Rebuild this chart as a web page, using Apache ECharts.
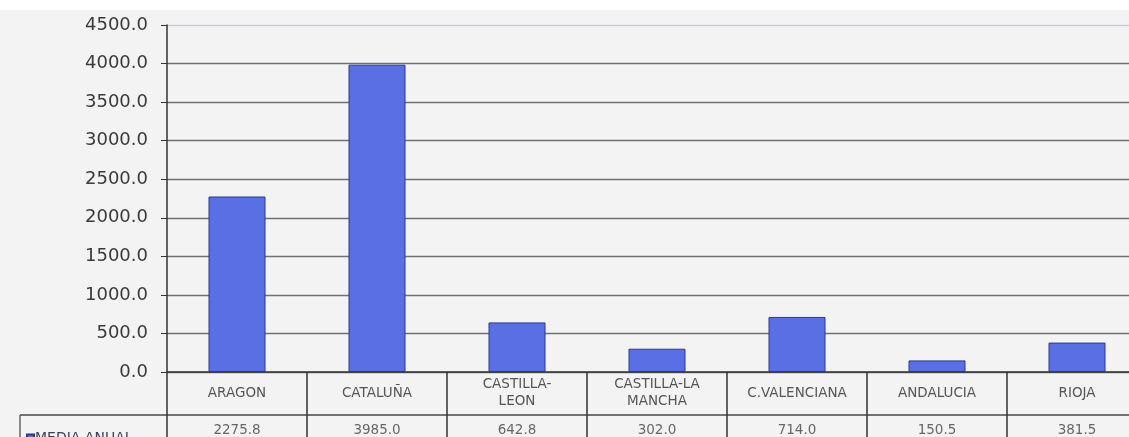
<!DOCTYPE html>
<html><head><meta charset="utf-8">
<script src="https://cdn.jsdelivr.net/npm/echarts@6/dist/echarts.min.js"></script>
<style>html,body{margin:0;padding:0;background:#f3f3f3;overflow:hidden}#c{width:1147px;height:437px}</style>
</head><body><div id="c"></div>
<script>
const categories = ['ARAGON','CATALUÑA','CASTILLA-\nLEON','CASTILLA-LA\nMANCHA','C.VALENCIANA','ANDALUCIA','RIOJA'];
const seriesName = 'MEDIA ANUAL';
const values = [2275.8, 3985.0, 642.8, 302.0, 714.0, 150.5, 381.5];
const yTicks = {min: 0, max: 4500, interval: 500};

const gridColors = ['#707070','#707070','#707070','#707070','#707070','#707070','#707070','#707070','#707070','#c9ced6'];

const chart = echarts.init(document.getElementById('c'));
chart.setOption({
  backgroundColor: '#f3f3f3',
  animation: false,
  grid: {left: 167, top: 25, right: 0, height: 347, containLabel: false},
  legend: {
    data: [seriesName], left: 21, top: 426, icon: 'rect', itemWidth: 7, itemHeight: 7, itemGap: 4,
    textStyle: {fontFamily: 'DejaVu Sans', fontSize: 14, color: '#3a3f5a', padding: [0,0,0,-4]}
  },
  xAxis: [{
    type: 'category', data: categories, boundaryGap: true,
    axisLine: {lineStyle: {color: '#333', width: 1.5}},
    axisTick: {show: true, interval: 0, length: 68, lineStyle: {color: '#333', width: 1.5}},
    axisLabel: {interval: 0, margin: 21, verticalAlign: 'middle', lineHeight: 17,
      fontFamily: 'DejaVu Sans', fontSize: 13.5, color: '#555'}
  }, {
    type: 'category', data: values.map(v => v.toFixed(1)), position: 'bottom',
    axisLine: {show: false}, axisTick: {show: false},
    axisLabel: {interval: 0, margin: 58, verticalAlign: 'middle',
      fontFamily: 'DejaVu Sans', fontSize: 13.5, color: '#666'}
  }],
  yAxis: {
    type: 'value', min: yTicks.min, max: yTicks.max, interval: yTicks.interval,
    axisLine: {show: true, lineStyle: {color: '#333', width: 1.5}},
    axisTick: {show: true, length: 6, lineStyle: {color: '#333'}},
    axisLabel: {margin: 19, formatter: v => v.toFixed(1),
      fontFamily: 'DejaVu Sans', fontSize: 18, color: '#3a3a3a'},
    splitLine: {lineStyle: {color: gridColors, width: 1.3}}
  },
  graphic: [
    {type: 'rect', shape: {x: 0, y: 0, width: 1147, height: 10}, style: {fill: '#ffffff'}, silent: true},
    {type: 'line', shape: {x1: 20, y1: 415, x2: 1147, y2: 415}, style: {stroke: '#444', lineWidth: 1.5}, silent: true},
    {type: 'line', shape: {x1: 20, y1: 415, x2: 20, y2: 437}, style: {stroke: '#666', lineWidth: 1.5}, silent: true}
  ],
  series: [{
    name: seriesName, type: 'bar', data: values, barWidth: 57, xAxisIndex: 0,
    itemStyle: {color: '#5b6fe4', borderColor: '#2b3a8c', borderWidth: 1}
  }]
});
</script></body></html>
